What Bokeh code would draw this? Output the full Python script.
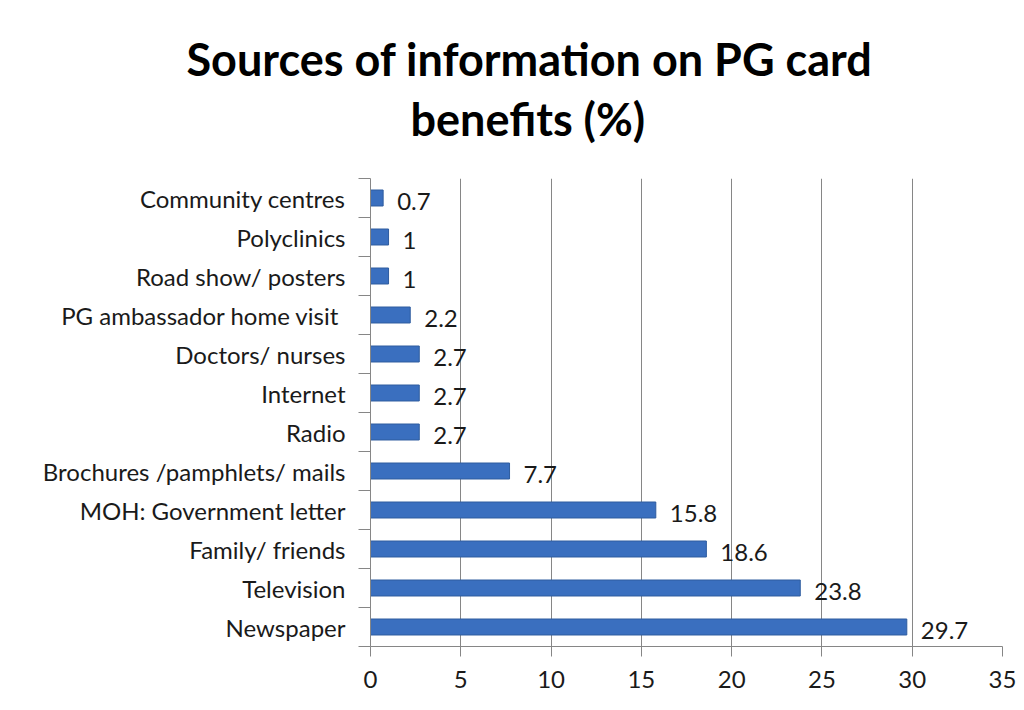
from bokeh.plotting import figure
from bokeh.models import ColumnDataSource, FixedTicker, Title
from bokeh.core.properties import value
from bokeh.embed import file_html
from bokeh.resources import INLINE

# Data (bottom to top)
categories = ["Newspaper", "Television", "Family/ friends", "MOH: Government letter",
              "Brochures /pamphlets/ mails", "Radio", "Internet", "Doctors/ nurses",
              "PG ambassador home visit ", "Road show/ posters", "Polyclinics",
              "Community centres"]
percents = [29.7, 23.8, 18.6, 15.8, 7.7, 2.7, 2.7, 2.7, 2.2, 1, 1, 0.7]
x_ticks = [0, 5, 10, 15, 20, 25, 30, 35]
title_lines = ["Sources of information on PG card", "benefits (%)"]

FONT = "Lato"
FS = "24px"
n = len(categories)
pos = list(range(n))
src = ColumnDataSource(dict(y=pos, v=percents, lab=[f"{v:g}" for v in percents]))

p = figure(width=1016, height=702, output_backend="svg", toolbar_location=None,
           x_range=(0, 35), y_range=(-0.5, n - 0.5),
           min_border_left=370, min_border_right=14, min_border_top=178, min_border_bottom=56)
p.outline_line_color = None
p.background_fill_color = "white"
p.border_fill_color = "white"

# Title: spacer closest to the frame, then line 2, then line 1
p.add_layout(Title(text=" ", text_font_size="20px", standoff=7), "above")
title_offsets = [-184, 40]
for line, off in reversed(list(zip(title_lines, title_offsets))):
    p.add_layout(Title(text=line, align="left", offset=off, text_font=FONT,
                       text_font_size="45px", text_font_style="bold",
                       text_color="black", standoff=4), "above")

p.hbar(y="y", right="v", left=0, height=0.41, source=src,
       fill_color="#3a6fbf", line_color="#2e5c9f", line_width=1)
p.text(x="v", y="y", text="lab", source=src, x_offset=14, y_offset=3,
       text_font=value(FONT), text_font_size=FS, text_color="#1a1a1a",
       text_baseline="middle", text_align="left")

# X axis
p.xaxis.ticker = FixedTicker(ticks=x_ticks)
p.xaxis.axis_line_color = "#868686"
p.xaxis.major_tick_line_color = "#868686"
p.xaxis.major_tick_out = 10
p.xaxis.major_tick_in = 0
p.xaxis.minor_tick_line_color = None
p.xaxis.major_label_text_font = FONT
p.xaxis.major_label_text_font_size = FS
p.xaxis.major_label_text_color = "#1a1a1a"
p.xaxis.major_label_standoff = 14

# Y axis
p.yaxis.ticker = FixedTicker(ticks=pos, minor_ticks=[i - 0.5 for i in range(n + 1)])
p.yaxis.major_label_overrides = {i: c for i, c in enumerate(categories)}
p.yaxis.axis_line_color = "#868686"
p.yaxis.major_tick_line_color = None
p.yaxis.major_tick_out = 0
p.yaxis.major_tick_in = 0
p.yaxis.minor_tick_line_color = "#868686"
p.yaxis.minor_tick_out = 12
p.yaxis.minor_tick_in = 0
p.yaxis.major_label_text_font = FONT
p.yaxis.major_label_text_font_size = FS
p.yaxis.major_label_text_color = "#1a1a1a"
p.yaxis.major_label_standoff = 13

p.xgrid.grid_line_color = "#868686"
p.xgrid.grid_line_width = 1
p.ygrid.grid_line_color = None

open("out.html", "w").write(file_html(p, INLINE))
